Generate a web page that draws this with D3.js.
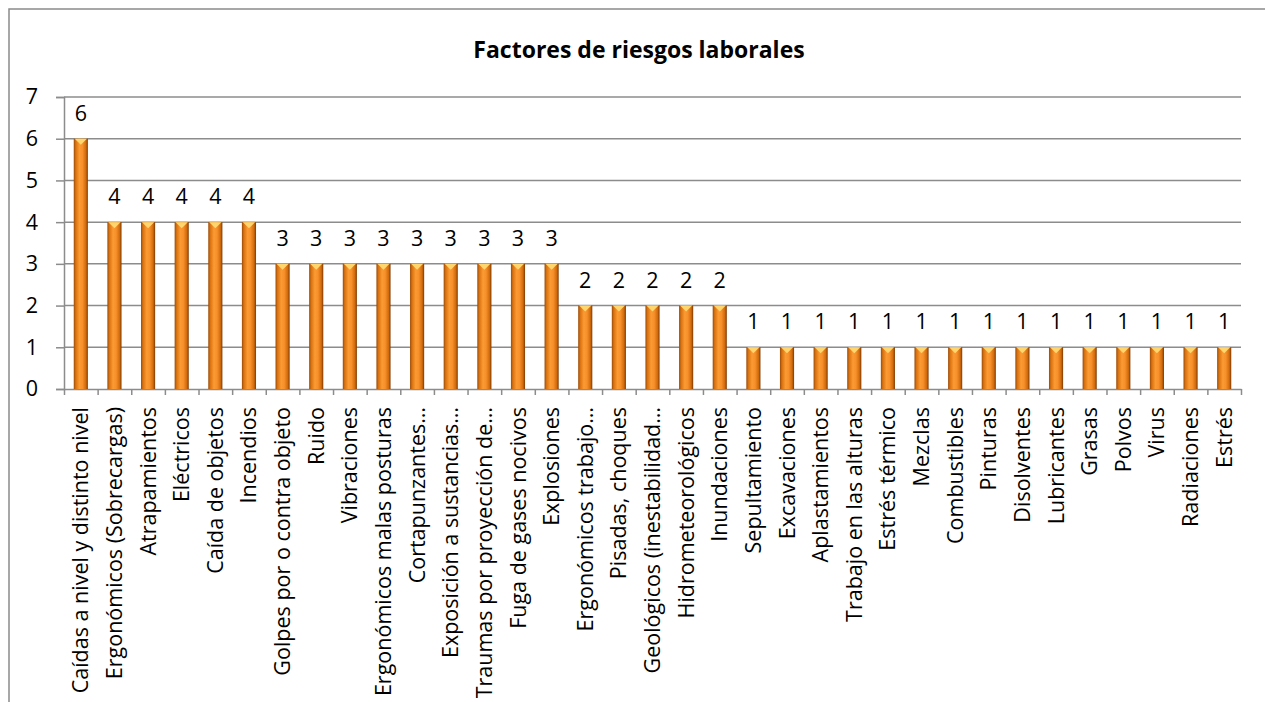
<!DOCTYPE html>
<html>
<head>
<meta charset="utf-8">
<script src="https://cdn.jsdelivr.net/npm/d3@7"></script>
<style>
  body { margin: 0; background: #fff; }
  svg { display: block; font-family: "Open Sans", sans-serif; }
</style>
</head>
<body>
<div id="wrapper"></div>
<script>
// data
const categories = [
  "Caídas a nivel y distinto nivel", "Ergonómicos (Sobrecargas)", "Atrapamientos",
  "Eléctricos", "Caída de objetos", "Incendios", "Golpes por o contra objeto",
  "Ruido", "Vibraciones", "Ergonómicos malas posturas", "Cortapunzantes…",
  "Exposición a sustancias…", "Traumas por proyección de…", "Fuga de gases nocivos",
  "Explosiones", "Ergonómicos trabajo…", "Pisadas, choques", "Geológicos (inestabilidad…",
  "Hidrometeorológicos", "Inundaciones", "Sepultamiento", "Excavaciones",
  "Aplastamientos", "Trabajo en las alturas", "Estrés térmico", "Mezclas",
  "Combustibles", "Pinturas", "Disolventes", "Lubricantes", "Grasas", "Polvos",
  "Virus", "Radiaciones", "Estrés"
];
const values = [6, 4, 4, 4, 4, 4, 3, 3, 3, 3, 3, 3, 3, 3, 3, 2, 2, 2, 2, 2,
  1, 1, 1, 1, 1, 1, 1, 1, 1, 1, 1, 1, 1, 1, 1];
const yTicks = [0, 1, 2, 3, 4, 5, 6, 7];
const title = "Factores de riesgos laborales";

const data = categories.map((c, i) => ({ cat: c, value: values[i] }));

const dimensions = {
  width: 1265,
  height: 702,
  margin: { top: 97, right: 24, bottom: 313, left: 64 }
};
dimensions.boundedWidth = dimensions.width - dimensions.margin.left - dimensions.margin.right;
dimensions.boundedHeight = dimensions.height - dimensions.margin.top - dimensions.margin.bottom;

const fontSize = 21.5;

const svg = d3.select("#wrapper")
  .append("svg")
  .attr("width", dimensions.width)
  .attr("height", dimensions.height);

// chart frame (runs off the right and bottom of the picture)
svg.append("rect")
  .attr("x", 9).attr("y", 9)
  .attr("width", 1265).attr("height", 700)
  .attr("fill", "none")
  .attr("stroke", "#8a8a8a")
  .attr("stroke-width", 1.5);

svg.append("text")
  .attr("x", 639).attr("y", 58)
  .attr("text-anchor", "middle")
  .attr("font-weight", "bold")
  .attr("font-size", 23)
  .attr("fill", "#000")
  .text(title);

// bar gradient (cylinder look)
const defs = svg.append("defs");
const grad = defs.append("linearGradient").attr("id", "barGrad")
  .attr("x1", "0%").attr("x2", "100%").attr("y1", "0%").attr("y2", "0%");
[["0%", "#9a4a08"], ["14%", "#d9720f"], ["40%", "#fb9a33"], ["62%", "#f7902a"],
 ["86%", "#d06a0c"], ["100%", "#7a3a06"]].forEach(([o, c]) =>
  grad.append("stop").attr("offset", o).attr("stop-color", c));

const bounds = svg.append("g")
  .attr("transform", `translate(${dimensions.margin.left},${dimensions.margin.top})`);

const xScale = d3.scaleBand()
  .domain(categories)
  .range([0, dimensions.boundedWidth])
  .padding(0);

const yScale = d3.scaleLinear()
  .domain([0, 7])
  .range([dimensions.boundedHeight, 0]);

// gridlines
bounds.append("g")
  .selectAll("line")
  .data(yTicks.filter(t => t > 0))
  .join("line")
  .attr("x1", 0).attr("x2", dimensions.boundedWidth)
  .attr("y1", d => yScale(d)).attr("y2", d => yScale(d))
  .attr("stroke", "#8c8c8c")
  .attr("stroke-width", 1.5);

// y axis
const yAxis = bounds.append("g")
  .call(d3.axisLeft(yScale).tickValues(yTicks).tickFormat(d3.format("d"))
    .tickSize(8).tickPadding(18));
yAxis.select(".domain").attr("stroke", "#8c8c8c").attr("stroke-width", 1.5);
yAxis.selectAll(".tick line").attr("stroke", "#8c8c8c").attr("stroke-width", 1.5);
yAxis.selectAll(".tick text")
  .attr("font-size", fontSize)
  .attr("font-family", "'Open Sans', sans-serif")
  .attr("fill", "#000");

// x axis with ticks at category boundaries
const edgeScale = d3.scaleLinear()
  .domain([0, categories.length])
  .range([0, dimensions.boundedWidth]);
const xAxis = bounds.append("g")
  .attr("transform", `translate(0,${dimensions.boundedHeight})`)
  .call(d3.axisBottom(edgeScale)
    .tickValues(d3.range(categories.length + 1))
    .tickSize(6)
    .tickSizeOuter(0)
    .tickFormat(""));
xAxis.select(".domain").attr("stroke", "#8c8c8c").attr("stroke-width", 1.5);
xAxis.selectAll(".tick line").attr("stroke", "#8c8c8c").attr("stroke-width", 1.5);

// bars
const barW = xScale.bandwidth() * 0.42;
const barGroups = bounds.append("g")
  .selectAll("g")
  .data(data)
  .join("g")
  .attr("transform", d => `translate(${xScale(d.cat) + xScale.bandwidth() / 2 - barW / 2},0)`);

barGroups.append("rect")
  .attr("x", 0)
  .attr("y", d => yScale(d.value))
  .attr("width", barW)
  .attr("height", d => yScale(0) - yScale(d.value))
  .attr("fill", "url(#barGrad)");

barGroups.append("path")
  .attr("d", d => {
    const t = yScale(d.value);
    return `M1,${t} L${barW - 1},${t} L${barW / 2},${t + 6} Z`;
  })
  .attr("fill", "#ffd56e");

// value labels
bounds.append("g")
  .selectAll("text")
  .data(data)
  .join("text")
  .attr("x", d => xScale(d.cat) + xScale.bandwidth() / 2)
  .attr("y", d => yScale(d.value) - 18)
  .attr("text-anchor", "middle")
  .attr("font-size", fontSize)
  .attr("fill", "#000")
  .text(d => d.value);

// category labels
bounds.append("g")
  .selectAll("text")
  .data(data)
  .join("text")
  .attr("transform", d =>
    `translate(${xScale(d.cat) + xScale.bandwidth() / 2},${dimensions.boundedHeight + 18}) rotate(-90)`)
  .attr("text-anchor", "end")
  .attr("dy", "0.35em")
  .attr("font-size", fontSize)
  .attr("fill", "#000")
  .text(d => d.cat);
</script>
</body>
</html>
